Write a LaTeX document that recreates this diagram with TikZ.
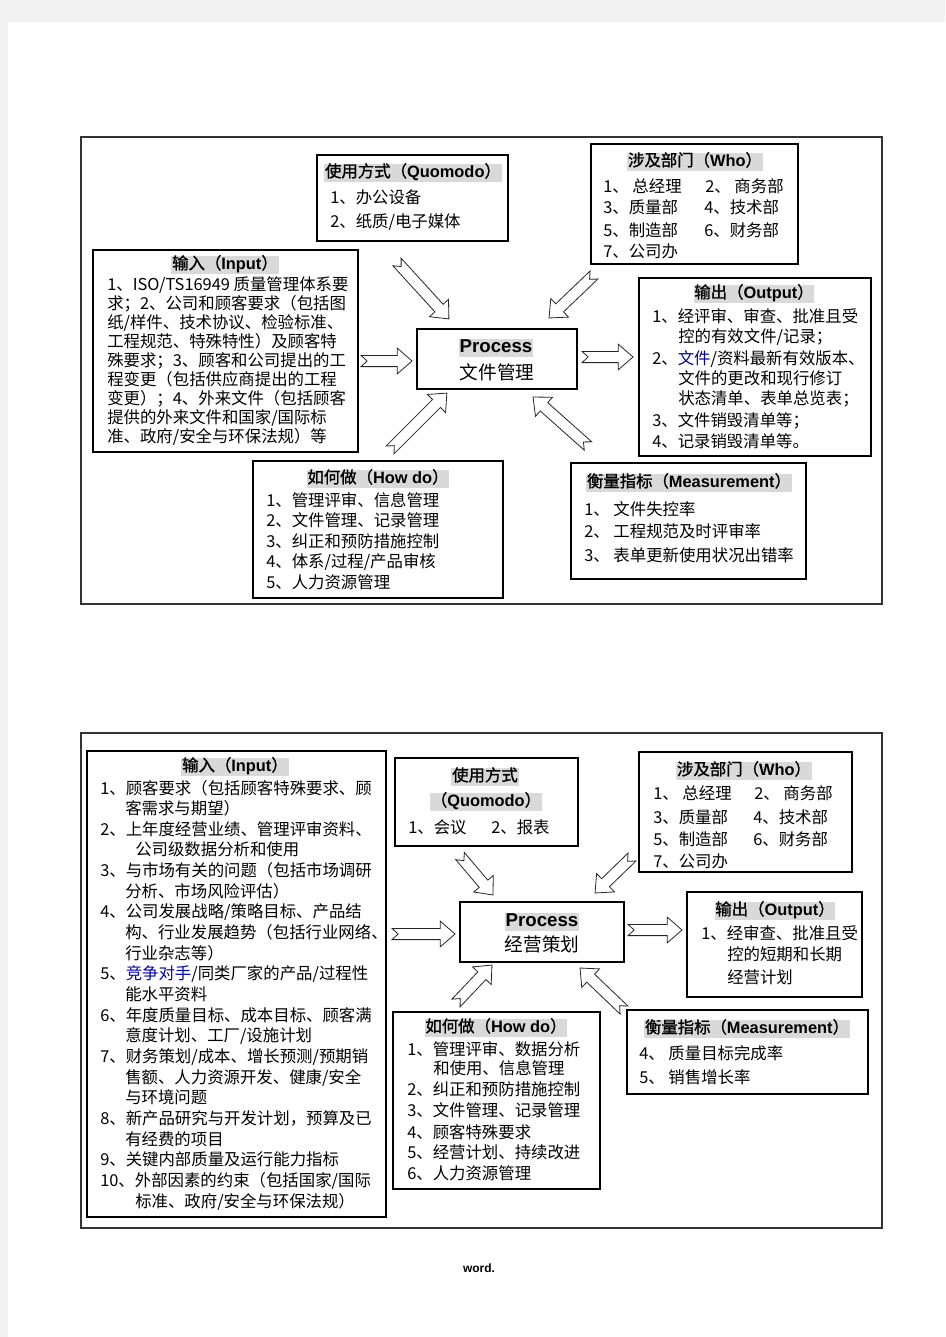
\documentclass[tikz,border=0pt]{standalone}
\usepackage{fontspec}
\setmainfont{Noto Sans CJK SC}
\newfontfamily\cjkb[FakeBold=1.2]{Noto Sans CJK SC}
\newfontfamily\latn{Liberation Sans}
\usetikzlibrary{calc,fit,shadows}

\newcommand\ttlmix[2]{{\cjkb #1（}{\latn\bfseries #2}{\cjkb ）}}
\newcommand\hollowarrow[2]{%
  \path let \p1=($(#2)-(#1)$) in
    \pgfextra{\pgfmathsetmacro\arrang{atan2(\y1,\x1)}%
              \pgfmathsetmacro\arrlen{veclen(\x1,\y1)}%
              \xdef\arrang{\arrang}\xdef\arrlen{\arrlen}};
  \draw[hollow, shift={(#1)}, rotate=\arrang]
    (0pt,4.2pt) -- (\arrlen pt-11pt,4.2pt) -- (\arrlen pt-11pt,9.6pt)
    -- (\arrlen pt,0pt) -- (\arrlen pt-11pt,-9.6pt) -- (\arrlen pt-11pt,-4.2pt)
    -- (0pt,-4.2pt) -- (4.6pt,0pt) -- cycle;}

\tikzset{
  frame/.style={draw=black!80, line width=0.8pt, inner sep=0pt},
  box/.style={draw=black, line width=0.9pt, fill=white, inner sep=0pt,
    drop shadow={shadow xshift=0.7pt, shadow yshift=-0.7pt, fill=black!55, opacity=1}},
  ttl/.style={fill=black!15, inner sep=0.6pt, text height=0.92em, text depth=0.3em,
    font=\fontsize{12.3}{14}\selectfont},
  txt/.style={anchor=base west, inner sep=0pt, font=\fontsize{12.3}{14}\selectfont},
  big/.style={font=\fontsize{14}{16}\selectfont},
  hollow/.style={draw=black!85, line width=0.6pt, fill=white},
}

\begin{document}
\begin{tikzpicture}[x=0.75pt,y=-0.75pt]
  \fill[black!5] (0,0) rectangle (945,1337);
  \fill[white] (8,22) rectangle (945,1337);
  \useasboundingbox (0,0) rectangle (945,1337);

  %% 文件管理
  \node[frame, fit={(81,137) (882,604)}] (frmA) {};
  \node[box, fit={(317,155) (508,241)}] (quoA) {};
  \node[box, fit={(591,144) (798,264)}] (whoA) {};
  \node[box, fit={(93,250) (358,452)}] (inA) {};
  \node[box, fit={(417,329) (577,389)}] (procA) {};
  \node[box, fit={(639,278) (871,456)}] (outA) {};
  \node[box, fit={(253,461) (503,598)}] (howA) {};
  \node[box, fit={(571,463) (806,579)}] (measA) {};

  \node[ttl] (quoAt) at (413,173) {\ttlmix{使用方式}{Quomodo}};
  \node[ttl] (whoAt) at (695,162) {\ttlmix{涉及部门}{Who}};
  \node[ttl] (inAt) at (225,265) {\ttlmix{输入}{Input}};
  \node[ttl] (outAt) at (754,294) {\ttlmix{输出}{Output}};
  \node[ttl] (howAt) at (378,479) {\ttlmix{如何做}{How do}};
  \node[ttl] (measAt) at (689,483) {\ttlmix{衡量指标}{Measurement}};
  \node[ttl, big] (procAt) at (496,348) {\latn\bfseries Process};
  \node[big, inner sep=0pt] (procAs) at (497,372) {文件管理};

  \node[txt] (quoA1) at (330,204) {1、办公设备};
  \node[txt] (quoA2) at (330,228) {2、纸质/电子媒体};

  \foreach \px/\py/\ltxt [count=\i] in {603/193/{1、 总经理}, 705/193/{2、 商务部},
      603/214/{3、质量部}, 704/214/{4、技术部}, 603/237/{5、制造部},
      704/237/{6、财务部}, 603/258/{7、公司办}}
    \node[txt] (whoA\i) at (\px,\py) {\ltxt};

  \foreach \ltxt [count=\i] in {{1、ISO/TS16949 质量管理体系要}, {求；2、公司和顾客要求（包括图},
      {纸/样件、技术协议、检验标准、}, {工程规范、特殊特性）及顾客特},
      {殊要求；3、顾客和公司提出的工}, {程变更（包括供应商提出的工程},
      {变更）；4、外来文件（包括顾客}, {提供的外来文件和国家/国际标},
      {准、政府/安全与环保法规）等}}
    \node[txt, font=\fontsize{12.3}{14}\selectfont] (inA\i) at (107,{291+18.9*(\i-1)}) {\ltxt};

  \foreach \px/\py/\ltxt [count=\i] in {652/323/{1、经评审、审查、批准且受},
      678/342/{控的有效文件/记录；}, 652/364/{2、{\color{blue!60!black}文件}/资料最新有效版本、},
      678/384/{文件的更改和现行修订}, 678/404/{状态清单、表单总览表；},
      652/426/{3、文件销毁清单等；}, 652/447/{4、记录销毁清单等。}}
    \node[txt] (outA\i) at (\px,\py) {\ltxt};

  \foreach \ltxt [count=\i] in {{1、管理评审、信息管理}, {2、文件管理、记录管理},
      {3、纠正和预防措施控制}, {4、体系/过程/产品审核}, {5、人力资源管理}}
    \node[txt] (howA\i) at (266,{506+20.6*(\i-1)}) {\ltxt};

  \node[txt] (measA1) at (584,515) {1、 文件失控率};
  \node[txt] (measA2) at (584,537) {2、 工程规范及时评审率};
  \node[txt] (measA3) at (584,561) {3、 表单更新使用状况出错率};

  \coordinate (a1s) at (361,361); \coordinate (a1e) at (412,361);
  \coordinate (a2s) at (582,357); \coordinate (a2e) at (633,357);
  \coordinate (a3s) at (397,262); \coordinate (a3e) at (449,319);
  \coordinate (a4s) at (594,275); \coordinate (a4e) at (549,318);
  \coordinate (a5s) at (390,450); \coordinate (a5e) at (447,393);
  \coordinate (a6s) at (588,446); \coordinate (a6e) at (533,397);
  \foreach \k in {1,...,6}
    {\hollowarrow{a\k s}{a\k e}}

  %% 经营策划
  \node[frame, fit={(81,733) (882,1228)}] (frmB) {};
  \node[box, fit={(87,751) (386,1217)}] (inB) {};
  \node[box, fit={(395,758) (578,846)}] (quoB) {};
  \node[box, fit={(639,752) (852,872)}] (whoB) {};
  \node[box, fit={(460,902) (624,962)}] (procB) {};
  \node[box, fit={(687,892) (862,997)}] (outB) {};
  \node[box, fit={(393,1012) (600,1189)}] (howB) {};
  \node[box, fit={(627,1010) (868,1094)}] (measB) {};

  \node[ttl] (inBt) at (235,767) {\ttlmix{输入}{Input}};
  \node[ttl] (quoBt) at (485,777) {\cjkb 使用方式};
  \node[ttl] (quoBu) at (486,802) {{\cjkb （}{\latn\bfseries Quomodo}{\cjkb ）}};
  \node[ttl] (whoBt) at (744,771) {\ttlmix{涉及部门}{Who}};
  \node[ttl] (outBt) at (775,911) {\ttlmix{输出}{Output}};
  \node[ttl] (howBt) at (496,1028) {\ttlmix{如何做}{How do}};
  \node[ttl] (measBt) at (747,1029) {\ttlmix{衡量指标}{Measurement}};
  \node[ttl, big] (procBt) at (542,922) {\latn\bfseries Process};
  \node[big, inner sep=0pt] (procBs) at (542,944) {经营策划};

  \foreach \px/\ltxt [count=\i] in {100/{1、顾客要求（包括顾客特殊要求、顾}, 125/{客需求与期望）},
      100/{2、上年度经营业绩、管理评审资料、}, 135/{公司级数据分析和使用},
      100/{3、与市场有关的问题（包括市场调研}, 125/{分析、市场风险评估）},
      100/{4、公司发展战略/策略目标、产品结}, 125/{构、行业发展趋势（包括行业网络、},
      125/{行业杂志等）}, 100/{5、{\color{blue!70!black}竞争对手}/同类厂家的产品/过程性},
      125/{能水平资料}, 100/{6、年度质量目标、成本目标、顾客满},
      125/{意度计划、工厂/设施计划}, 100/{7、财务策划/成本、增长预测/预期销},
      125/{售额、人力资源开发、健康/安全}, 125/{与环境问题},
      100/{8、新产品研究与开发计划，预算及已}, 125/{有经费的项目},
      100/{9、关键内部质量及运行能力指标}, 100/{10、外部因素的约束（包括国家/国际},
      135/{标准、政府/安全与环保法规）}}
    \node[txt] (inB\i) at (\px,{794+20.65*(\i-1)}) {\ltxt};

  \node[txt] (quoB1) at (408,833) {1、会议};
  \node[txt] (quoB2) at (491,833) {2、报表};

  \foreach \px/\py/\ltxt [count=\i] in {653/799/{1、 总经理}, 754/799/{2、 商务部},
      653/823/{3、质量部}, 753/823/{4、技术部}, 653/845/{5、制造部},
      753/845/{6、财务部}, 653/867/{7、公司办}}
    \node[txt] (whoB\i) at (\px,\py) {\ltxt};

  \node[txt] (outB1) at (701,939) {1、经审查、批准且受};
  \node[txt] (outB2) at (727,960) {控的短期和长期};
  \node[txt] (outB3) at (727,983) {经营计划};

  \foreach \px/\py/\ltxt [count=\i] in {407/1055/{1、管理评审、数据分析}, 433/1074/{和使用、信息管理},
      407/1095/{2、纠正和预防措施控制}, 407/1116/{3、文件管理、记录管理},
      407/1138/{4、顾客特殊要求}, 407/1158/{5、经营计划、持续改进},
      407/1179/{6、人力资源管理}}
    \node[txt] (howB\i) at (\px,\py) {\ltxt};

  \node[txt] (measB1) at (639,1059) {4、 质量目标完成率};
  \node[txt] (measB2) at (639,1083) {5、 销售增长率};

  \coordinate (b1s) at (392,934); \coordinate (b1e) at (455,934);
  \coordinate (b2s) at (628,930); \coordinate (b2e) at (682,930);
  \coordinate (b3s) at (460,856); \coordinate (b3e) at (493,895);
  \coordinate (b4s) at (632,857); \coordinate (b4e) at (595,893);
  \coordinate (b5s) at (456,1003); \coordinate (b5e) at (492,965);
  \coordinate (b6s) at (624,1010); \coordinate (b6e) at (580,968);
  \foreach \k in {1,...,6}
    {\hollowarrow{b\k s}{b\k e}}

  \node[font=\latn\bfseries\fontsize{9}{10}\selectfont] (foot) at (479,1268) {word.};
\end{tikzpicture}
\end{document}
